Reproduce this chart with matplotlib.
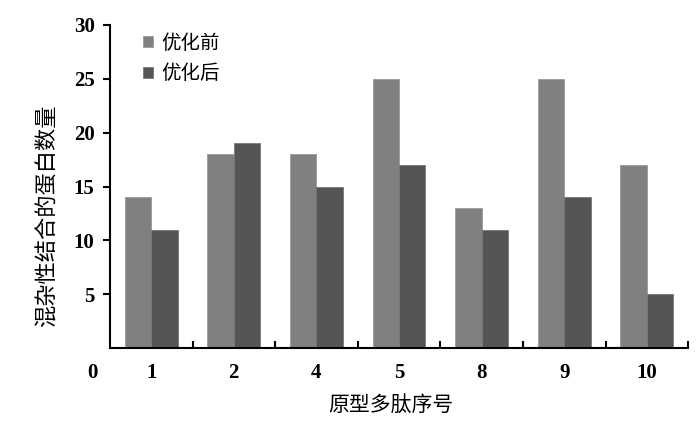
import matplotlib.pyplot as plt
import numpy as np

plt.rcParams['font.family'] = ['Liberation Serif', 'Noto Sans CJK SC']

categories = ['1', '2', '4', '5', '8', '9', '10']
before = [14, 18, 18, 25, 13, 25, 17]
after = [11, 19, 15, 17, 11, 14, 5]

fig = plt.figure(figsize=(7, 4.21), dpi=100)
ax = fig.add_axes([0.157, 0.173, 0.826, 0.768])

x = np.arange(len(categories))
w = 0.32
ax.bar(x - w / 2, before, w, color='#808080', edgecolor='#999999', linewidth=0.6, label='优化前')
ax.bar(x + w / 2, after, w, color='#555555', edgecolor='#777777', linewidth=0.6, label='优化后')

ax.set_xlim(-0.5, len(categories) - 0.5)
ax.set_ylim(0, 30)

ax.set_yticks([5, 10, 15, 20, 25, 30])
ax.set_yticklabels(['5', '10', '15', '20', '25', '30'], fontsize=15, fontweight='bold')
ax.tick_params(axis='y', direction='out', length=5, width=1.5, pad=6)

ax.set_xticks(x)
ax.set_xticklabels(categories, fontsize=15, fontweight='bold')
ax.tick_params(axis='x', length=0, pad=11)
# category boundary ticks pointing inward
ax.set_xticks(np.arange(len(categories)) + 0.5, minor=True)
ax.tick_params(axis='x', which='minor', direction='in', length=5, width=1.5)

ax.text(-0.022, -0.077, '0', transform=ax.transAxes, ha='right', va='center',
        fontsize=15, fontweight='bold')

for s in ['top', 'right']:
    ax.spines[s].set_visible(False)
for s in ['left', 'bottom']:
    ax.spines[s].set_linewidth(1.5)

ax.set_ylabel('混杂性结合的蛋白数量', fontsize=16)
ax.yaxis.set_label_coords(-0.088, 0.41)
ax.set_xlabel('原型多肽序号', fontsize=15)
ax.xaxis.set_label_coords(0.486, -0.146)

ax.legend(loc='upper left', bbox_to_anchor=(0.027, 1.025), frameon=False, fontsize=14,
          handlelength=0.5, handleheight=0.5, handletextpad=0.45, labelspacing=0.6)

fig.savefig('out.png')
